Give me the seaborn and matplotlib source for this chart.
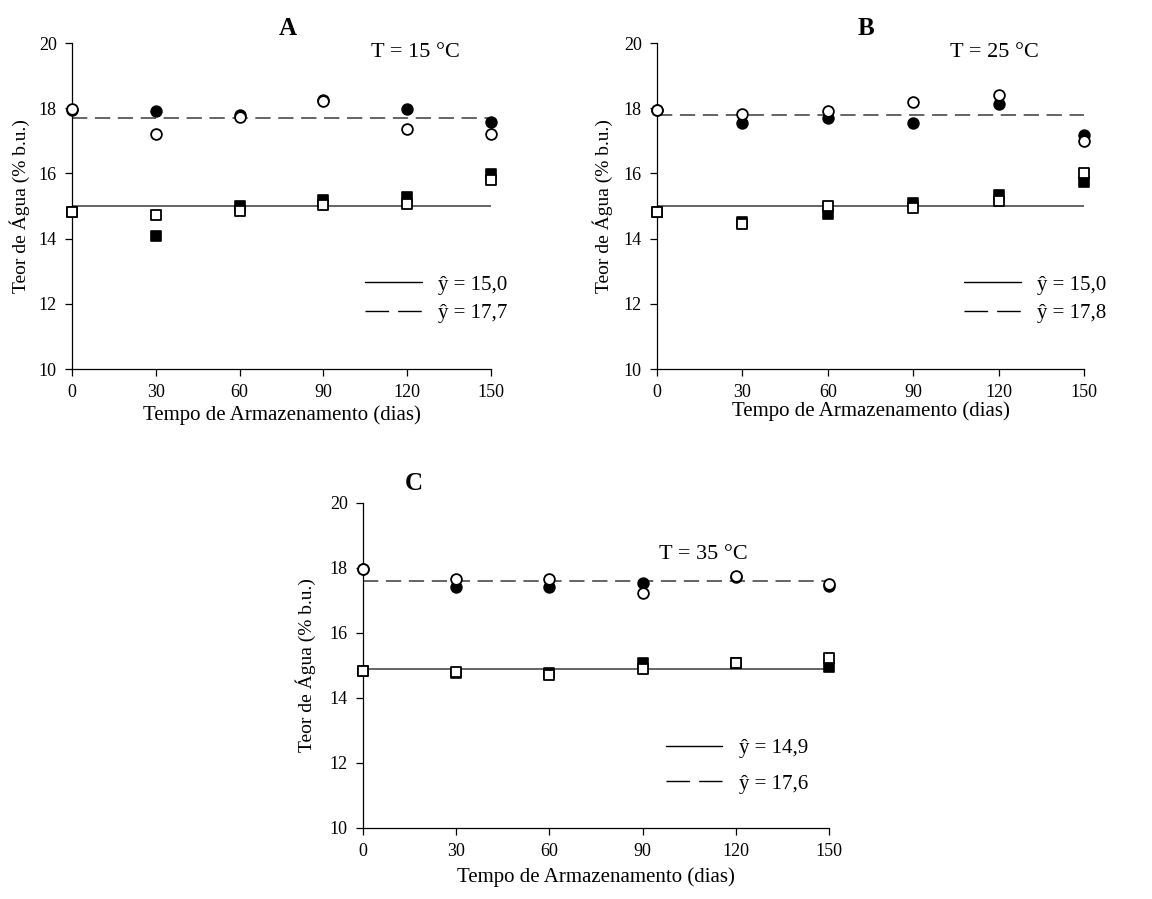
import matplotlib
matplotlib.use("Agg")
import matplotlib.pyplot as plt
from matplotlib.lines import Line2D
import seaborn as sns

days = [0, 30, 60, 90, 120, 150]
xticks = [0, 30, 60, 90, 120, 150]
yticks = [10, 12, 14, 16, 18, 20]

panel_letters = ["A", "B", "C"]
temp_labels = ["T = 15 °C", "T = 25 °C", "T = 35 °C"]

# Panel A (15 °C)
a_circ_filled = [17.95, 17.92, 17.80, 18.24, 17.97, 17.57]
a_circ_open = [17.97, 17.21, 17.72, 18.22, 17.36, 17.21]
a_sq_filled = [14.83, 14.08, 15.00, 15.18, 15.27, 15.98]
a_sq_open = [14.83, 14.72, 14.86, 15.03, 15.06, 15.80]
a_fit = [15.0, 17.7]
a_fit_labels = ["ŷ = 15,0", "ŷ = 17,7"]

# Panel B (25 °C)
b_circ_filled = [17.94, 17.54, 17.71, 17.56, 18.13, 17.18]
b_circ_open = [17.94, 17.82, 17.91, 18.18, 18.41, 17.00]
b_sq_filled = [14.81, 14.50, 14.75, 15.10, 15.34, 15.75]
b_sq_open = [14.81, 14.44, 15.01, 14.93, 15.15, 16.00]
b_fit = [15.0, 17.8]
b_fit_labels = ["ŷ = 15,0", "ŷ = 17,8"]

# Panel C (35 °C)
c_circ_filled = [17.97, 17.42, 17.42, 17.53, 17.72, 17.46]
c_circ_open = [17.97, 17.65, 17.66, 17.22, 17.75, 17.51]
c_sq_filled = [14.83, 14.77, 14.76, 15.07, 15.07, 14.96]
c_sq_open = [14.83, 14.80, 14.70, 14.88, 15.07, 15.22]
c_fit = [14.9, 17.6]
c_fit_labels = ["ŷ = 14,9", "ŷ = 17,6"]

sns.set_style("ticks")
plt.rcParams["font.family"] = ["Liberation Serif", "DejaVu Serif"]
plt.rcParams["text.color"] = "black"
plt.rcParams["axes.labelcolor"] = "black"
plt.rcParams["xtick.color"] = "black"
plt.rcParams["ytick.color"] = "black"

fig = plt.figure(figsize=(11.52, 8.99), dpi=100)

rects = [
    [0.0625, 0.5895, 0.3637, 0.3626],
    [0.5703, 0.5895, 0.3707, 0.3626],
    [0.3151, 0.0790, 0.4045, 0.3615],
]
panels = [
    (a_circ_filled, a_circ_open, a_sq_filled, a_sq_open, a_fit, a_fit_labels),
    (b_circ_filled, b_circ_open, b_sq_filled, b_sq_open, b_fit, b_fit_labels),
    (c_circ_filled, c_circ_open, c_sq_filled, c_sq_open, c_fit, c_fit_labels),
]
letter_pos = [(0.515, 1.045), (0.49, 1.045), (0.11, 1.06)]
temp_pos = [(0.82, 0.97), (0.79, 0.97), (0.73, 0.84)]
xlabel_y = [-0.11, -0.10, -0.12]
ylabel_x = [-0.10, -0.103, -0.10]
leg_anchor = [(0.70, 0.215), (0.72, 0.215), (0.65, 0.19)]
leg_spacing = [0.42, 0.42, 0.75]

ink = "#000000"
linecol = "#3a3a3a"
ms = 60
for i, (rect, pdata) in enumerate(zip(rects, panels)):
    cf, co, sf, so, fit, fit_lab = pdata
    ax = fig.add_axes(rect)

    sns.lineplot(x=[days[0], days[-1]], y=[fit[0], fit[0]], ax=ax,
                 color=linecol, linewidth=1.1, zorder=2)
    sns.lineplot(x=[days[0], days[-1]], y=[fit[1], fit[1]], ax=ax,
                 color=linecol, linewidth=1.1, zorder=2)
    ax.lines[-1].set_dashes((10, 5))

    common = dict(ax=ax, s=ms, clip_on=False, zorder=3, legend=False)
    sns.scatterplot(x=days, y=sf, marker="s", color=ink, edgecolor=ink,
                    linewidth=1.2, **common)
    sns.scatterplot(x=days, y=so, marker="s", color="white", edgecolor=ink,
                    linewidth=1.3, **common)
    sns.scatterplot(x=days, y=cf, marker="o", color=ink, edgecolor=ink,
                    linewidth=1.2, **common)
    sns.scatterplot(x=days, y=co, marker="o", color="white", edgecolor=ink,
                    linewidth=1.3, **common)

    ax.set_xlim(0, 150)
    ax.set_ylim(10, 20)
    ax.set_xticks(xticks)
    ax.set_yticks(yticks)
    ax.tick_params(axis="both", direction="out", length=5, width=0.9,
                   labelsize=13, colors=ink, pad=6)
    for side in ["top", "right"]:
        ax.spines[side].set_visible(False)
    for side in ["left", "bottom"]:
        ax.spines[side].set_linewidth(0.9)
        ax.spines[side].set_color(ink)
    ax.set_facecolor("white")

    ax.set_xlabel("Tempo de Armazenamento (dias)", fontsize=15)
    ax.set_ylabel("Teor de Água (% b.u.)", fontsize=14)
    ax.xaxis.set_label_coords(0.5, xlabel_y[i])
    ax.yaxis.set_label_coords(ylabel_x[i], 0.5)

    ax.text(letter_pos[i][0], letter_pos[i][1], panel_letters[i],
            transform=ax.transAxes, ha="center", va="center",
            fontsize=18, fontweight="bold")
    ax.text(temp_pos[i][0], temp_pos[i][1], temp_labels[i],
            transform=ax.transAxes, ha="center", va="center", fontsize=16)

    handles = [
        Line2D([0], [0], color=ink, linewidth=1.0),
        Line2D([0], [0], color=ink, linewidth=1.0, dashes=(17, 6.5)),
    ]
    ax.legend(handles, fit_lab, loc="center left", bbox_to_anchor=leg_anchor[i],
              frameon=False, fontsize=15, handlelength=2.7, handletextpad=0.8,
              labelspacing=leg_spacing[i], borderaxespad=0, borderpad=0)

fig.savefig("out.png", dpi=100, facecolor="white")
